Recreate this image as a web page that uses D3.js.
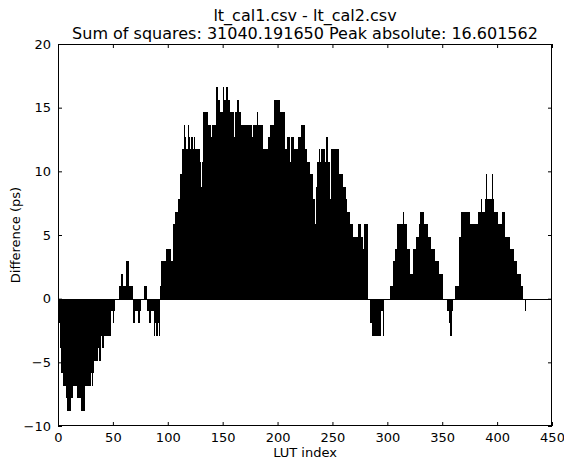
<!DOCTYPE html>
<html>
<head>
<meta charset="utf-8">
<script src="https://cdn.jsdelivr.net/npm/d3@7/dist/d3.min.js"></script>
<style>
  html, body { margin: 0; padding: 0; background: #fff; }
  svg { display: block; }
  text { font-family: "DejaVu Sans", sans-serif; fill: #000; }
</style>
</head>
<body>
<svg id="chart" width="564" height="460"></svg>
<script>
const titleLines = ["lt_cal1.csv - lt_cal2.csv", "Sum of squares: 31040.191650 Peak absolute: 16.601562"];
const xLabel = "LUT index";
const yLabel = "Difference (ps)";
const xTicks = [0, 50, 100, 150, 200, 250, 300, 350, 400, 450];
const yTicks = [-10, -5, 0, 5, 10, 15, 20];
const xDomain = [0, 450];
const yDomain = [-10, 20];

// Difference (ps) per LUT index 0..425
const differences = [
  -0.98,-1.95,-3.91,-5.86,-5.86,-6.84,-6.84,-7.81,-8.79,-8.79,
  -8.79,-8.79,-7.81,-7.81,-6.84,-6.84,-6.84,-7.81,-7.81,-7.81,
  -7.81,-8.79,-8.79,-8.79,-8.79,-6.84,-6.84,-6.84,-6.84,-6.84,
  -5.86,-6.84,-5.86,-4.88,-4.88,-4.88,-3.91,-4.88,-4.88,-2.93,
  -3.91,-3.91,-2.93,-2.93,-2.93,-2.93,-2.93,-2.93,-0.98,-0.98,
  -1.95,-0.98,0,0,0,0,0.98,1.95,1.95,0.98,
  0.98,0.98,2.93,2.93,2.93,0.98,0.98,0.98,-1.95,-1.95,
  -0.98,-0.98,-0.98,-1.95,-1.95,-0.98,0,0,0.98,0.98,
  0.98,-0.98,-0.98,-1.95,-1.95,-0.98,-0.98,-2.93,-1.95,-2.93,
  -2.93,-1.95,-2.93,0.98,2.93,2.93,2.93,2.93,3.91,3.91,
  3.91,3.91,3.91,2.93,2.93,5.86,5.86,6.84,6.84,7.81,
  7.81,9.77,9.77,11.72,11.72,13.67,12.70,11.72,13.67,12.70,
  11.72,12.70,12.70,11.72,12.70,11.72,11.72,11.72,11.72,10.74,
  8.79,10.74,14.65,14.65,14.65,14.65,14.65,13.67,13.67,12.70,
  13.67,13.67,13.67,13.67,16.60,16.60,15.63,15.63,14.65,14.65,
  16.60,15.63,15.63,16.60,16.60,15.63,15.63,14.65,14.65,14.65,
  12.70,14.65,14.65,15.63,15.63,14.65,14.65,13.67,13.67,13.67,
  13.67,13.67,13.67,13.67,13.67,13.67,13.67,12.70,13.67,13.67,
  13.67,14.65,13.67,13.67,13.67,13.67,13.67,11.72,11.72,11.72,
  11.72,12.70,12.70,13.67,13.67,13.67,13.67,15.63,15.63,15.63,
  15.63,15.63,14.65,14.65,14.65,14.65,14.65,11.72,11.72,12.70,
  12.70,10.74,12.70,12.70,12.70,11.72,11.72,11.72,11.72,12.70,
  12.70,13.67,13.67,13.67,13.67,11.72,11.72,10.74,10.74,10.74,
  9.77,9.77,7.81,7.81,5.86,8.79,10.74,10.74,11.72,10.74,
  11.72,11.72,11.72,10.74,12.70,12.70,10.74,10.74,7.81,11.72,
  11.72,11.72,11.72,11.72,11.72,11.72,9.77,9.77,9.77,9.77,
  8.79,8.79,7.81,6.84,6.84,6.84,5.86,5.86,5.86,4.88,
  4.88,4.88,4.88,5.86,5.86,5.86,4.88,4.88,3.91,5.86,
  5.86,5.86,0,0,-1.95,-1.95,-2.93,-2.93,-2.93,-2.93,
  -2.93,-2.93,-2.93,-2.93,-0.98,-0.98,-2.93,0,0,0,
  0,0,0.98,0.98,0.98,2.93,2.93,3.91,3.91,5.86,
  5.86,5.86,5.86,5.86,6.84,5.86,5.86,5.86,3.91,3.91,
  3.91,1.95,1.95,3.91,3.91,3.91,4.88,4.88,4.88,5.86,
  6.84,6.84,6.84,5.86,5.86,5.86,5.86,4.88,4.88,4.88,
  3.91,3.91,3.91,2.93,2.93,2.93,2.93,1.95,1.95,1.95,
  1.95,0,0,0,-0.98,-0.98,-1.95,-2.93,-2.93,-0.98,
  0,0,0.98,0.98,0.98,4.88,4.88,6.84,6.84,6.84,
  6.84,6.84,6.84,6.84,6.84,5.86,5.86,5.86,5.86,5.86,
  5.86,5.86,5.86,6.84,6.84,7.81,6.84,6.84,6.84,7.81,
  9.77,7.81,7.81,7.81,7.81,9.77,7.81,6.84,6.84,6.84,
  6.84,5.86,5.86,5.86,6.84,6.84,6.84,4.88,4.88,4.88,
  4.88,4.88,3.91,3.91,3.91,2.93,2.93,2.93,1.95,1.95,
  1.95,1.95,0.98,0.98,0,-0.98
];

const plot = { left: 58, right: 552, top: 44, bottom: 426 };

const svg = d3.select("#chart");
const x = d3.scaleLinear().domain(xDomain).range([plot.left, plot.right]);
const y = d3.scaleLinear().domain(yDomain).range([plot.bottom, plot.top]);

// bars
svg.append("g")
  .attr("shape-rendering", "crispEdges")
  .selectAll("rect")
  .data(differences)
  .join("rect")
  .attr("x", (d, i) => x(i))
  .attr("width", (d, i) => x(i + 1) - x(i))
  .attr("y", d => y(Math.max(0, d)))
  .attr("height", d => Math.abs(y(d) - y(0)))
  .attr("fill", "#000");

// zero line
svg.append("line")
  .attr("x1", plot.left).attr("x2", plot.right)
  .attr("y1", Math.round(y(0)) + 0.5).attr("y2", Math.round(y(0)) + 0.5)
  .attr("stroke", "#000").attr("stroke-width", 1);

// axes (matplotlib classic: inward ticks on all sides)
const tickLen = 4;
const fmt = d => d < 0 ? "\u2212" + Math.abs(d) : String(d);

const xAxisB = d3.axisBottom(x).tickValues(xTicks).tickSize(-tickLen).tickPadding(7).tickFormat(fmt);
const xAxisT = d3.axisTop(x).tickValues(xTicks).tickSize(-tickLen).tickFormat("");
const yAxisL = d3.axisLeft(y).tickValues(yTicks).tickSize(-tickLen).tickPadding(7).tickFormat(fmt);
const yAxisR = d3.axisRight(y).tickValues(yTicks).tickSize(-tickLen).tickFormat("");

function style(g) {
  g.select(".domain").remove();
  g.selectAll(".tick line").attr("stroke", "#000").attr("stroke-width", 1);
  g.selectAll(".tick text").attr("font-family", "DejaVu Sans").attr("font-size", 13).attr("fill", "#000");
}
svg.append("g").attr("transform", `translate(0,${plot.bottom})`).call(xAxisB).call(style);
svg.append("g").attr("transform", `translate(0,${plot.top})`).call(xAxisT).call(style);
svg.append("g").attr("transform", `translate(${plot.left},0)`).call(yAxisL).call(style);
svg.append("g").attr("transform", `translate(${plot.right},0)`).call(yAxisR).call(style);

// frame
svg.append("rect")
  .attr("x", plot.left + 0.5).attr("y", plot.top + 0.5)
  .attr("width", plot.right - plot.left - 1).attr("height", plot.bottom - plot.top - 1)
  .attr("fill", "none").attr("stroke", "#000").attr("stroke-width", 1);

// titles
svg.append("g").selectAll("text")
  .data(titleLines)
  .join("text")
  .attr("x", (plot.left + plot.right) / 2)
  .attr("y", (d, i) => 21 + i * 18)
  .attr("text-anchor", "middle")
  .attr("font-size", 16)
  .text(d => d);

svg.append("text")
  .attr("x", (plot.left + plot.right) / 2)
  .attr("y", 457)
  .attr("text-anchor", "middle")
  .attr("font-size", 13)
  .text(xLabel);

svg.append("text")
  .attr("transform", `translate(20,${(plot.top + plot.bottom) / 2}) rotate(-90)`)
  .attr("text-anchor", "middle")
  .attr("font-size", 13)
  .text(yLabel);
</script>
</body>
</html>
